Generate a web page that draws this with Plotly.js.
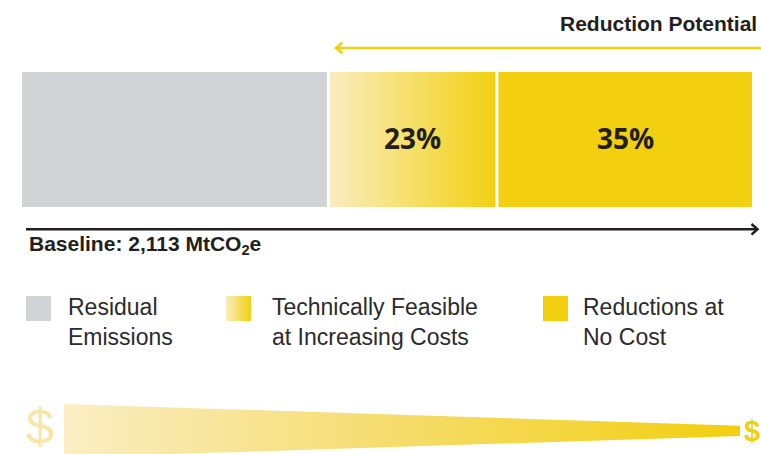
<!DOCTYPE html>
<html>
<head>
<meta charset="utf-8">
<script src="https://cdn.plot.ly/plotly-3.0.1.min.js"></script>
<style>html,body{margin:0;padding:0;background:#fff;}#chart{width:761px;height:454px;}</style>
</head>
<body>
<div id="chart"></div>
<script>
// ---- data ----
const categories = ['Residual Emissions', 'Technically Feasible at Increasing Costs', 'Reductions at No Cost'];
const legendLabels = ['Residual<br>Emissions', 'Technically Feasible<br>at Increasing Costs', 'Reductions at<br>No Cost'];
const shares = [42, 23, 35];
const shareLabels = ['', '23%', '35%'];
const titleText = 'Reduction Potential';
const baselineText = 'Baseline: 2,113 MtCO<sub>2</sub>e';

// ---- style ----
const GRAY = '#d1d3d4';
const YELLOW = '#f2d00f';
const PALE = '#faedc0';
const DARK = '#231f20';
const FONT = 'Liberation Sans, Arial, sans-serif';
const BAR_Y = 139.5, BAR_W = 138;

const starts = [];
let acc = 0;
shares.forEach(v => { starts.push(acc); acc += v; });

const barColors = [GRAY, YELLOW, YELLOW];
const traces = shares.map((v, i) => ({
  type: 'bar', orientation: 'h',
  x: [v], y: [BAR_Y], width: [BAR_W],
  name: categories[i],
  marker: {color: barColors[i], line: {color: '#ffffff', width: 3}},
  hoverinfo: 'skip', showlegend: false
}));

// gradient overlay for the "increasing costs" segment (from the data)
const x0 = starts[1], x1 = starts[1] + shares[1];
const y0 = BAR_Y - BAR_W / 2, y1 = BAR_Y + BAR_W / 2;
traces.push({
  type: 'scatter', mode: 'lines', xaxis: 'x', yaxis: 'y',
  x: [x0, x1, x1, x0, x0], y: [y0, y0, y1, y1, y0],
  fill: 'toself', line: {color: '#ffffff', width: 3},
  fillgradient: {type: 'horizontal', colorscale: [[0, PALE], [1, YELLOW]]},
  hoverinfo: 'skip', showlegend: false
});

// legend gradient swatch
traces.push({
  type: 'scatter', mode: 'lines', xaxis: 'x2', yaxis: 'y',
  x: [226, 251, 251, 226, 226], y: [296, 296, 321, 321, 296],
  fill: 'toself', line: {width: 0, color: 'rgba(0,0,0,0)'},
  fillgradient: {type: 'horizontal', colorscale: [[0, PALE], [1, YELLOW]]},
  hoverinfo: 'skip', showlegend: false
});

// cost wedge
traces.push({
  type: 'scatter', mode: 'lines', xaxis: 'x2', yaxis: 'y',
  x: [64, 740, 740, 64, 64], y: [404, 425.7, 436, 457.5, 404],
  fill: 'toself', line: {width: 0, color: 'rgba(0,0,0,0)'},
  fillgradient: {type: 'horizontal', colorscale: [[0, '#faeec4'], [0.5, '#f5dc6a'], [1, '#f2cf0e']]},
  hoverinfo: 'skip', showlegend: false
});

const annotations = [];
// percentage labels
shares.forEach((v, i) => {
  if (!shareLabels[i]) return;
  annotations.push({
    xref: 'x', yref: 'y', x: starts[i] + v / 2, y: 137.5,
    text: shareLabels[i], showarrow: false, xanchor: 'center', yanchor: 'middle',
    font: {family: 'Open Sans, sans-serif', size: 28, color: DARK, weight: 700}
  });
});
// title
annotations.push({
  xref: 'x2', yref: 'y', x: 759, y: 23.5, text: '<b>' + titleText + '</b>',
  showarrow: false, xanchor: 'right', yanchor: 'middle',
  font: {family: FONT, size: 21, color: DARK}
});
// baseline label
annotations.push({
  xref: 'x2', yref: 'y', x: 27, y: 245, text: '<b>' + baselineText + '</b>',
  showarrow: false, xanchor: 'left', yanchor: 'middle',
  font: {family: FONT, size: 21, color: DARK}
});
// legend texts
const legendX = [66, 270, 581];
legendLabels.forEach((t, i) => {
  annotations.push({
    xref: 'x2', yref: 'y', x: legendX[i], y: 292, text: t,
    showarrow: false, xanchor: 'left', yanchor: 'top', align: 'left',
    font: {family: FONT, size: 23, color: '#2b2b2b'}
  });
});
// dollar signs
annotations.push({
  xref: 'x2', yref: 'y', x: 40, y: 427, text: '$', showarrow: false,
  xanchor: 'center', yanchor: 'middle',
  font: {family: FONT, size: 50, color: '#f8e6a6'}
});
annotations.push({
  xref: 'x2', yref: 'y', x: 752, y: 431, text: '<b>$</b>', showarrow: false,
  xanchor: 'center', yanchor: 'middle',
  font: {family: FONT, size: 29, color: '#f2cf10'}
});

const shapes = [
  {type: 'rect', xref: 'x2', yref: 'y', x0: 26, x1: 51, y0: 296, y1: 321, fillcolor: GRAY, line: {width: 0}},
  {type: 'rect', xref: 'x2', yref: 'y', x0: 543, x1: 568, y0: 296, y1: 321, fillcolor: YELLOW, line: {width: 0}},
  // reduction potential arrow
  {type: 'line', xref: 'x2', yref: 'y', x0: 336, x1: 761, y0: 48, y1: 48, line: {color: YELLOW, width: 2.5}},
  {type: 'path', xref: 'x2', yref: 'y', path: 'M 342.5,42.5 L 336,48 L 342.5,53.5', line: {color: YELLOW, width: 2.5}},
  // baseline arrow
  {type: 'line', xref: 'x2', yref: 'y', x0: 26, x1: 757, y0: 229.3, y1: 229.3, line: {color: DARK, width: 2.5}},
  {type: 'path', xref: 'x2', yref: 'y', path: 'M 751.5,224 L 757.5,229.3 L 751.5,234.6', line: {color: DARK, width: 2.5}}
];

const scale = 733 / 100;
const xa = -20.5 / scale;
const layout = {
  width: 761, height: 454,
  margin: {l: 0, r: 0, t: 0, b: 0, pad: 0},
  paper_bgcolor: '#ffffff', plot_bgcolor: '#ffffff',
  barmode: 'stack', showlegend: false, hovermode: false,
  xaxis: {range: [xa, xa + 761 / scale], visible: false, fixedrange: true},
  xaxis2: {range: [0, 761], visible: false, overlaying: 'x', anchor: 'y', fixedrange: true},
  yaxis: {range: [454, 0], visible: false, fixedrange: true},
  annotations: annotations, shapes: shapes,
  font: {family: FONT}
};

Plotly.newPlot('chart', traces, layout, {staticPlot: true, displayModeBar: false});
</script>
</body>
</html>
